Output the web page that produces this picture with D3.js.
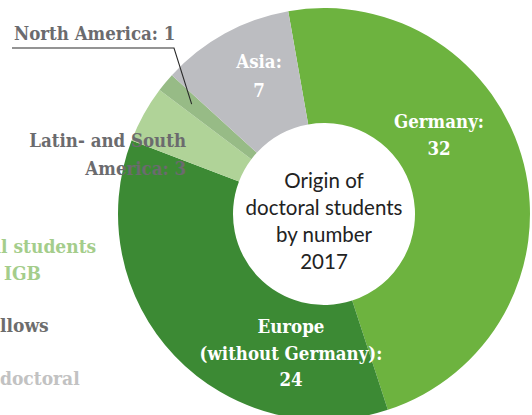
<!DOCTYPE html>
<html>
<head>
<meta charset="utf-8">
<script src="https://cdn.jsdelivr.net/npm/d3@7"></script>
<style>
  html, body { margin: 0; padding: 0; background: #fff; }
  svg { display: block; }
  .slab { font-family: "DejaVu Serif Condensed", "DejaVu Serif", serif; font-weight: bold; font-stretch: condensed; }
  .sans { font-family: Lato, "Noto Sans", sans-serif; }
</style>
</head>
<body>
<svg id="chart" width="532" height="415"></svg>
<script>
// Doctoral students by region of origin, 2017
const regions = ["Germany", "Europe (without Germany)", "Latin- and South America", "North America", "Asia"];
const counts = [32, 24, 3, 1, 7];
const sliceColors = ["#6db33f", "#3c8a34", "#b0d398", "#97bb86", "#bcbdc1"];

// Label lines for each slice (the number is appended from counts)
const labelLines = [
  ["Germany:"],
  ["Europe", "(without Germany):"],
  ["Latin- and South", "America:"],
  ["North America:"],
  ["Asia:"]
];

// Legend entries; they run past the left edge of the page
const legendItems = ["Doctoral students", "at the IGB", "Fellows", "Postdoctoral"];
const legendHidden = [7, 7, 2, 4];          // characters that fall left of the edge
const legendColors = ["#a4cd8b", "#a4cd8b", "#6d6d6d", "#c2c2c2"];

// Centre caption
const centerLines = ["Origin of", "doctoral students", "by number", "2017"];

const svg = d3.select("#chart");
const cx = 324, cy = 214, outerR = 206, innerR = 91;

const pie = d3.pie()
  .sort(null)
  .value(d => d)
  .startAngle(-10 * Math.PI / 180)
  .endAngle(350 * Math.PI / 180);

const arcs = pie(counts);
const arc = d3.arc().innerRadius(innerR).outerRadius(outerR);

const g = svg.append("g").attr("transform", `translate(${cx},${cy})`);

g.selectAll("path.slice")
  .data(arcs)
  .join("path")
  .attr("class", "slice")
  .attr("d", arc)
  .attr("fill", (d, i) => sliceColors[i]);

// Centre caption
const cap = g.append("text")
  .attr("class", "sans")
  .attr("text-anchor", "middle")
  .attr("font-size", 20.5)
  .attr("fill", "#222");
centerLines.forEach((t, i) => {
  cap.append("tspan").attr("x", 0).attr("y", -26 + i * 27).text(t);
});

const labelSize = 18.5;

// In-slice labels (white): Germany, Europe, Asia
const inside = [
  { i: 0, x: 115, y: -86, step: 26.5 },
  { i: 1, x: -33, y: 119, step: 26.5 },
  { i: 4, x: -65, y: -146, step: 29 }
];
inside.forEach(L => {
  const t = g.append("text")
    .attr("class", "slab")
    .attr("text-anchor", "middle")
    .attr("font-size", labelSize)
    .attr("fill", "#fff");
  const lines = labelLines[L.i].concat([String(counts[L.i])]);
  lines.forEach((s, k) => {
    t.append("tspan").attr("x", L.x).attr("y", L.y + k * L.step).text(s);
  });
});

// Latin- and South America label, outside to the left
const latin = g.append("text")
  .attr("class", "slab")
  .attr("text-anchor", "end")
  .attr("font-size", labelSize)
  .attr("fill", "#6b6b6e");
latin.append("tspan").attr("x", -138).attr("y", -67).text(labelLines[2][0]);
latin.append("tspan").attr("x", -138).attr("y", -39).text(labelLines[2][1] + " " + counts[2]);

// North America label with leader line to its slice
const na = arcs[3];
const naMid = (na.startAngle + na.endAngle) / 2;
const tipR = 172;
const tip = [tipR * Math.sin(naMid), -tipR * Math.cos(naMid)];
const elbow = [174 - cx, 48 - cy];
g.append("path")
  .attr("d", d3.line()([[12 - cx, 48 - cy], elbow, tip]))
  .attr("fill", "none")
  .attr("stroke", "#2a2a2a")
  .attr("stroke-width", 1.1);
g.append("text")
  .attr("class", "slab")
  .attr("x", 14 - cx)
  .attr("y", 40 - cy)
  .attr("font-size", labelSize)
  .attr("fill", "#6b6b6e")
  .text(labelLines[3][0] + " " + counts[3]);

// Legend text: place each entry so its hidden prefix sits left of x = 0
const legendSize = 19;
const legendStart = [1, 4, 0, 0];
const legendBase = [253, 280, 332, 385];
const probe = svg.append("text").attr("class", "slab").attr("font-size", legendSize);
const measure = s => { probe.text(s); return probe.node().getComputedTextLength(); };
// width of the hidden prefix, measured with the next glyph attached so spaces count
const prefixWidth = legendItems.map((s, i) => {
  const h = legendHidden[i];
  return measure(s.slice(0, h + 1)) - measure(s.charAt(h));
});
probe.remove();

svg.selectAll("text.legend")
  .data(legendItems)
  .join("text")
  .attr("class", "legend slab")
  .attr("x", (d, i) => legendStart[i] - prefixWidth[i])
  .attr("y", (d, i) => legendBase[i])
  .attr("font-size", legendSize)
  .attr("fill", (d, i) => legendColors[i])
  .text(d => d);
</script>
</body>
</html>
